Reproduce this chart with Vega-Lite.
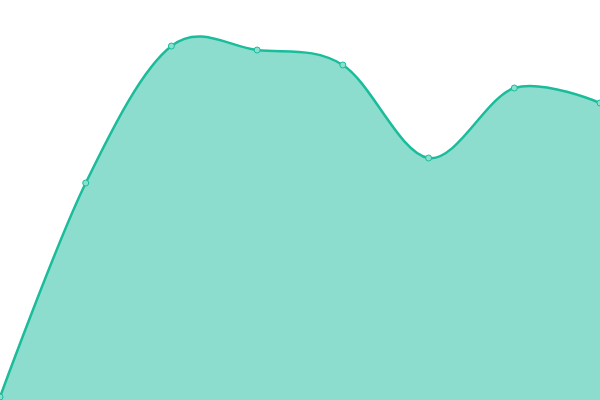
{
  "$schema": "https://vega.github.io/schema/vega-lite/v6.json",
  "width": 600,
  "height": 400,
  "autosize": "none",
  "padding": 0,
  "background": "white",
  "config": {"view": {"stroke": null}},
  "data": {"values": [
    {"i": 0, "v": 3},
    {"i": 1, "v": 217},
    {"i": 2, "v": 354},
    {"i": 3, "v": 350},
    {"i": 4, "v": 335},
    {"i": 5, "v": 242},
    {"i": 6, "v": 312},
    {"i": 7, "v": 297}
  ]},
  "encoding": {
    "x": {"field": "i", "type": "quantitative", "scale": {"domain": [0, 7], "nice": false, "zero": false}, "axis": null},
    "y": {"field": "v", "type": "quantitative", "scale": {"domain": [0, 400], "nice": false}, "axis": null}
  },
  "layer": [
    {"mark": {"type": "area", "interpolate": "cardinal", "color": "#1abc9c", "opacity": 0.5, "clip": true}},
    {"mark": {"type": "line", "interpolate": "cardinal", "color": "#1abc9c", "strokeWidth": 2.5, "clip": true}},
    {"mark": {"type": "point", "filled": true, "fill": "#8ae0cf", "stroke": "#1abc9c", "strokeWidth": 1, "size": 36, "opacity": 1}}
  ]
}
